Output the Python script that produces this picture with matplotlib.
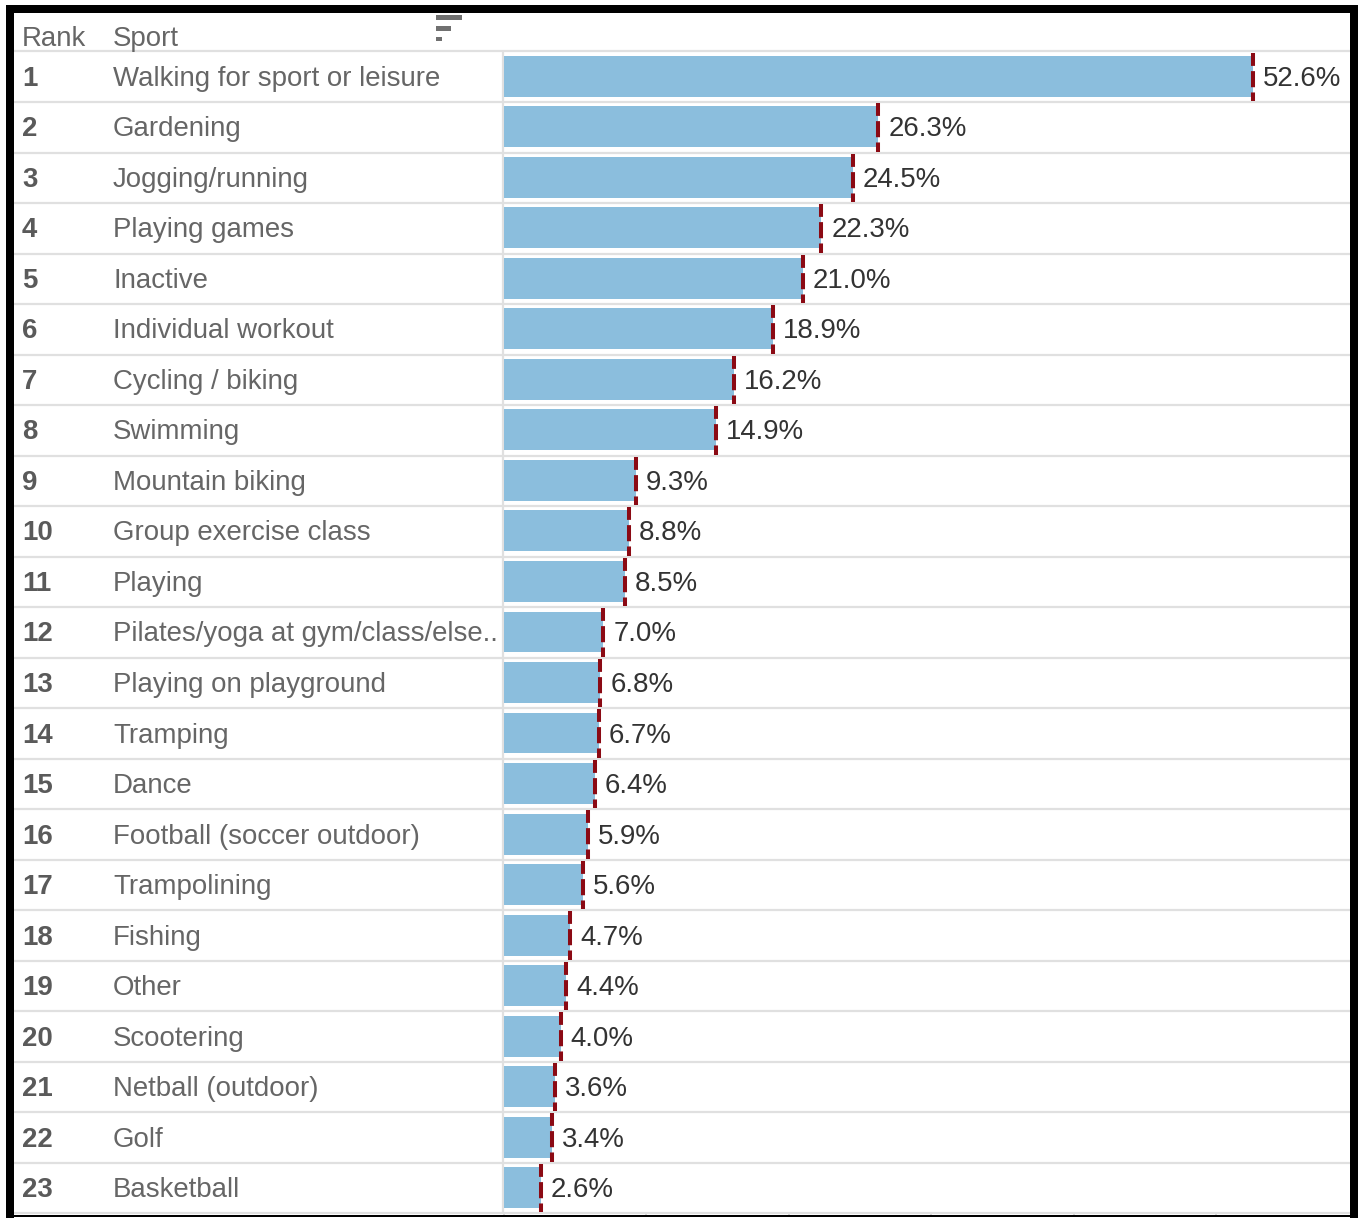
import matplotlib
matplotlib.use('Agg')
import numpy as np
import matplotlib.pyplot as plt
from matplotlib.patches import Rectangle
from matplotlib.transforms import blended_transform_factory

# Participation in sport, share of respondents (%)
ranks = list(range(1, 24))
sports = ['Walking for sport or leisure', 'Gardening', 'Jogging/running', 'Playing games',
          'Inactive', 'Individual workout', 'Cycling / biking', 'Swimming', 'Mountain biking',
          'Group exercise class', 'Playing', 'Pilates/yoga at gym/class/else..',
          'Playing on playground', 'Tramping', 'Dance', 'Football (soccer outdoor)',
          'Trampolining', 'Fishing', 'Other', 'Scootering', 'Netball (outdoor)', 'Golf',
          'Basketball']
values = [52.6, 26.3, 24.5, 22.3, 21.0, 18.9, 16.2, 14.9, 9.3, 8.8, 8.5, 7.0, 6.8, 6.7,
          6.4, 5.9, 5.6, 4.7, 4.4, 4.0, 3.6, 3.4, 2.6]
x_ticks = [0, 10, 20, 30, 40, 50]

W, H = 1359, 1218
FS = 19.9
plt.rcParams['font.family'] = ['Liberation Sans', 'DejaVu Sans']
fig = plt.figure(figsize=(W / 100, H / 100), dpi=100, facecolor='white')

# axes run the full table width, zero sits at the start of the bar pane
left, right, top, bottom = 14, 1350, 51.5, 1213.5
px_per_unit = 14.25
ax = fig.add_axes([left / W, 1 - bottom / H, (right - left) / W, (bottom - top) / H])
ax.set_xlim((left - 503.5) / px_per_unit, (right - 503.5) / px_per_unit)
ax.set_ylim(len(sports) - 0.5, -0.5)
ax.patch.set_alpha(0)
for s in ax.spines.values():
    s.set_visible(False)
ax.set_yticks([])
ax.set_xticks(x_ticks)
ax.set_xticklabels([])
ax.tick_params(axis='x', length=2.5, width=1.2, color='#d4d4d4', direction='out')

y = np.arange(len(sports))

# row separators and the pane divider
for edge in np.arange(-0.5, len(sports)):
    ax.axhline(edge, color='#e0e0e0', lw=1.6, zorder=1, clip_on=False)
ax.axvline(-0.05, color='#e0e0e0', lw=1.6, zorder=1)

ax.barh(y - 0.01, values, height=0.81, color='#8bbedd', zorder=2)

# dashed reference mark at the end of each bar
for i, v in zip(y, values):
    ax.plot([v, v], [i - 0.48, i + 0.48], color='#8b0a14', lw=2.9, zorder=3,
            linestyle=(0.8, (4, 1.3)), dash_capstyle='butt')
    ax.annotate('%.1f%%' % v, (v, i - 0.02), xytext=(7.2, 0), textcoords='offset points',
                va='center_baseline', ha='left', fontsize=FS, color='#333333', zorder=4)

# table columns
trans = blended_transform_factory(fig.transFigure, ax.transData)
for i, r, name in zip(y, ranks, sports):
    ax.text(22 / W, i - 0.02, str(r), transform=trans, va='center_baseline', ha='left',
            fontsize=FS, color='#5a5a5a', fontweight='bold')
    ax.text(113 / W, i - 0.02, name, transform=trans, va='center_baseline', ha='left',
            fontsize=FS, color='#666666')

fig.text(22 / W, 1 - 36 / H, 'Rank', va='center_baseline', ha='left', fontsize=FS, color='#666666')
fig.text(113 / W, 1 - 36 / H, 'Sport', va='center_baseline', ha='left', fontsize=FS, color='#666666')

# sort indicator in the header
for y0, h, w in [(15, 5, 26), (26, 5, 15), (37, 4, 6)]:
    fig.add_artist(Rectangle((436 / W, 1 - (y0 + h) / H), w / W, h / H, transform=fig.transFigure,
                             facecolor='#707070', edgecolor='none'))

# heavy black frame
for x0, y0, x1, y1 in [(6, 5, 1358, 13), (6, 5, 14, 1218), (1350, 5, 1358, 1218), (6, 1215, 1358, 1217)]:
    fig.add_artist(Rectangle((x0 / W, 1 - y1 / H), (x1 - x0) / W, (y1 - y0) / H,
                             transform=fig.transFigure, facecolor='black', edgecolor='none'))

fig.savefig('out.png', dpi=100)
